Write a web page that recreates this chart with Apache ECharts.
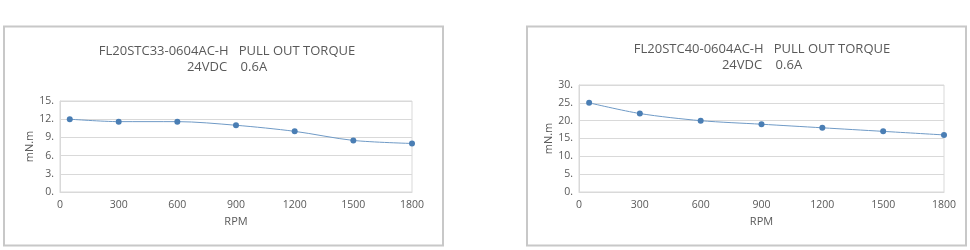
<!DOCTYPE html>
<html><head><meta charset="utf-8">
<script src="https://cdn.jsdelivr.net/npm/echarts@6/dist/echarts.min.js"></script>
<style>html,body{margin:0;padding:0;background:#fff}#c{width:970px;height:250px}</style>
</head><body><div id="c"></div>
<script>
const rpm = [50, 300, 600, 900, 1200, 1500, 1800];
const torqueA = [12, 11.6, 11.6, 11, 10, 8.5, 8];
const torqueB = [25, 22, 20, 19, 18, 17, 16];
const titleA = 'FL20STC33-0604AC-H   PULL OUT TORQUE\n24VDC    0.6A';
const titleB = 'FL20STC40-0604AC-H   PULL OUT TORQUE\n24VDC    0.6A';
const xTicks = [0, 300, 600, 900, 1200, 1500, 1800];

const font = '"Open Sans", "Noto Sans", sans-serif';
const txt = '#595959';
function xAxis(i){
  return {type:'value', gridIndex:i, min:xTicks[0], max:xTicks[xTicks.length-1], interval:xTicks[1]-xTicks[0], name:'RPM', nameLocation:'middle', nameGap:24,
    nameTextStyle:{color:txt, fontSize:11, fontFamily:font},
    axisLine:{show:true, lineStyle:{color:'#d9d9d9'}}, axisTick:{show:false},
    axisLabel:{color:txt, fontSize:10.5, fontFamily:font, margin:8, formatter:v=>String(v)},
    splitLine:{show:false}};
}
function yAxis(i, max, itv){
  return {type:'value', gridIndex:i, min:0, max:max, interval:itv, name:'mN.m', nameLocation:'middle', nameGap:25,
    nameTextStyle:{color:txt, fontSize:11, fontFamily:font},
    axisLine:{show:true, lineStyle:{color:'#d9d9d9'}}, axisTick:{show:false},
    axisLabel:{color:txt, fontSize:10.5, fontFamily:font, margin:6, formatter:v=>v+'.'},
    splitLine:{show:true, lineStyle:{color:'#d9d9d9'}}};
}
function series(i, vals){
  return {type:'line', xAxisIndex:i, yAxisIndex:i, data:rpm.map((x,k)=>[x, vals[k]]), smooth:0.3,
    symbol:'circle', symbolSize:6, itemStyle:{color:'#4a7eb4'}, lineStyle:{color:'#6f9ac6', width:1}, silent:true};
}
const chart = echarts.init(document.getElementById('c'));
chart.setOption({
  animation:false,
  title:[
    {text:titleA, left:222, textAlign:'center', top:38, textStyle:{fontSize:13, fontWeight:'normal', color:txt, fontFamily:font, lineHeight:16}},
    {text:titleB, left:757, textAlign:'center', top:36, textStyle:{fontSize:13, fontWeight:'normal', color:txt, fontFamily:font, lineHeight:16}}
  ],
  graphic:[
    {type:'rect', shape:{x:4, y:26.5, width:439, height:219}, style:{fill:'none', stroke:'#c8c8c8', lineWidth:2}},
    {type:'rect', shape:{x:527, y:26.5, width:439, height:219}, style:{fill:'none', stroke:'#c8c8c8', lineWidth:2}}
  ],
  grid:[
    {left:60, top:101, width:352, height:91, show:true, borderColor:'#d9d9d9', borderWidth:1},
    {left:579, top:85, width:365, height:107, show:true, borderColor:'#d9d9d9', borderWidth:1}
  ],
  xAxis:[xAxis(0), xAxis(1)],
  yAxis:[yAxis(0, 15, 3), yAxis(1, 30, 5)],
  series:[series(0, torqueA), series(1, torqueB)]
});
</script></body></html>
